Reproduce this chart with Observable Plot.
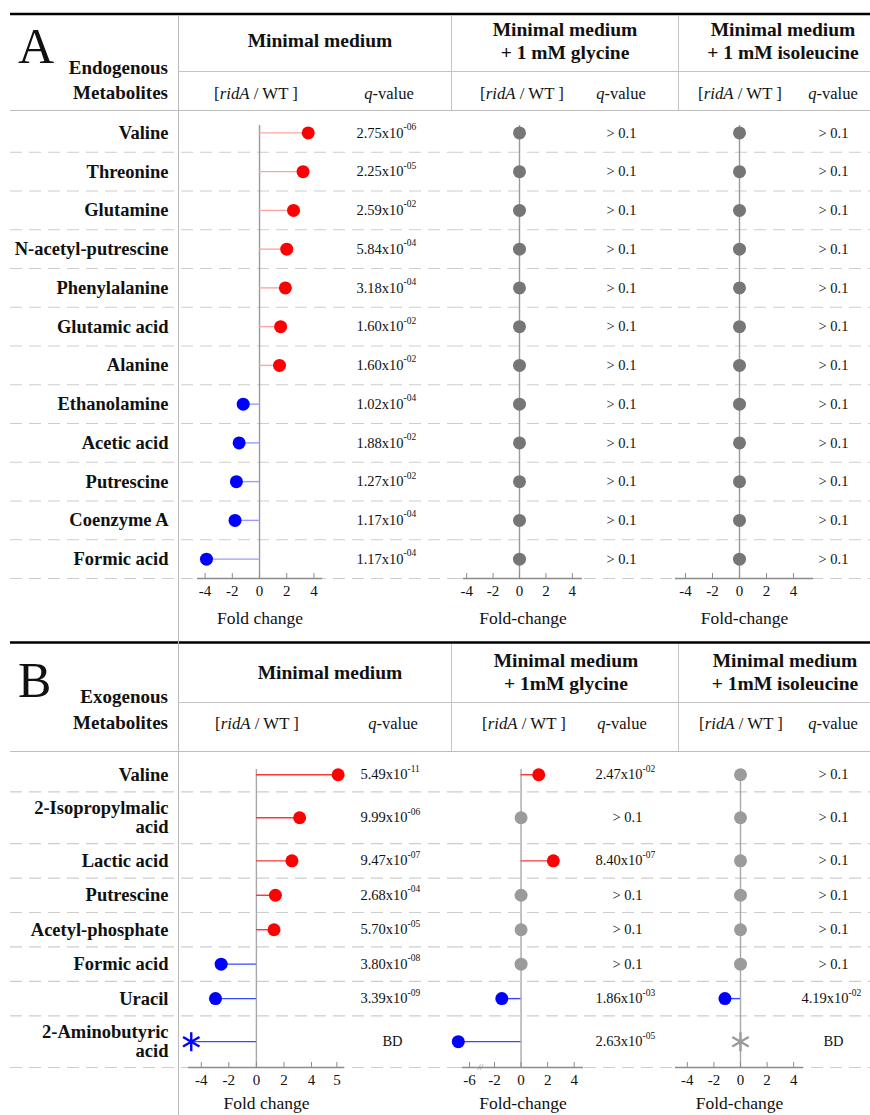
<!DOCTYPE html>
<html><head><meta charset="utf-8">
<script src="https://cdn.jsdelivr.net/npm/d3@7"></script>
<script src="https://cdn.jsdelivr.net/npm/@observablehq/plot@0.6"></script>
<style>
body{margin:0;background:#fff;}
#root{position:relative;width:870px;height:1115px;overflow:hidden;background:#fff;font-family:"Liberation Serif","Times New Roman",serif;}
</style></head><body><div id="root"></div>
<script>
// ---------------- DATA ----------------
const endoMetabolites = ["Valine","Threonine","Glutamine","N-acetyl-putrescine","Phenylalanine","Glutamic acid","Alanine","Ethanolamine","Acetic acid","Putrescine","Coenzyme A","Formic acid"];
const endoMinimalFC = [3.58, 3.2, 2.5, 2.0, 1.9, 1.55, 1.47, -1.2, -1.5, -1.7, -1.8, -3.9];
const endoMinimalQ = ["2.75x10^-06","2.25x10^-05","2.59x10^-02","5.84x10^-04","3.18x10^-04","1.60x10^-02","1.60x10^-02","1.02x10^-04","1.88x10^-02","1.27x10^-02","1.17x10^-04","1.17x10^-04"];
const endoGlycineFC = [0,0,0,0,0,0,0,0,0,0,0,0];
const endoGlycineQ = ["> 0.1","> 0.1","> 0.1","> 0.1","> 0.1","> 0.1","> 0.1","> 0.1","> 0.1","> 0.1","> 0.1","> 0.1"];
const endoIsoleucineFC = [0,0,0,0,0,0,0,0,0,0,0,0];
const endoIsoleucineQ = ["> 0.1","> 0.1","> 0.1","> 0.1","> 0.1","> 0.1","> 0.1","> 0.1","> 0.1","> 0.1","> 0.1","> 0.1"];

const exoMetabolites = ["Valine","2-Isopropylmalic\nacid","Lactic acid","Putrescine","Acetyl-phosphate","Formic acid","Uracil","2-Aminobutyric\nacid"];
const exoMinimalFC = [5.05, 3.14, 2.58, 1.38, 1.28, -2.56, -2.97, -4.73];
const exoMinimalQ = ["5.49x10^-11","9.99x10^-06","9.47x10^-07","2.68x10^-04","5.70x10^-05","3.80x10^-08","3.39x10^-09","BD"];
const exoGlycineFC = [1.33, 0, 2.43, 0, 0, 0, -1.45, -6.8];
const exoGlycineQ = ["2.47x10^-02","> 0.1","8.40x10^-07","> 0.1","> 0.1","> 0.1","1.86x10^-03","2.63x10^-05"];
const exoIsoleucineFC = [0, 0, 0, 0, 0, 0, -1.17, 0];
const exoIsoleucineQ = ["> 0.1","> 0.1","> 0.1","> 0.1","> 0.1","> 0.1","4.19x10^-02","BD"];

const ticksStd = [-4, -2, 0, 2, 4];
const ticksExoMinimal = [-4, -2, 0, 2, 4, 5];
const ticksExoGlycine = [-6, -2, 0, 2, 4];

const panelLetters = ["A", "B"];
const panelTitles = [["Endogenous", "Metabolites"], ["Exogenous", "Metabolites"]];
const conditionTitlesA = [["Minimal medium"], ["Minimal medium", "+ 1 mM glycine"], ["Minimal medium", "+ 1 mM isoleucine"]];
const conditionTitlesB = [["Minimal medium"], ["Minimal medium", "+ 1mM glycine"], ["Minimal medium", "+ 1mM isoleucine"]];
const axisLabels = ["Fold change", "Fold-change", "Fold-change"];

// ---------------- LAYOUT / FRAME ----------------
const FONT = '"Liberation Serif","Times New Roman",serif';
const root = d3.select("#root");
const bg = root.append("svg").attr("width", 870).attr("height", 1115)
  .style("position", "absolute").style("left", "0px").style("top", "0px")
  .style("font-family", FONT);

function line(x1, y1, x2, y2, stroke, w) {
  bg.append("line").attr("x1", x1).attr("y1", y1).attr("x2", x2).attr("y2", y2)
    .attr("stroke", stroke).attr("stroke-width", w);
}
function text(x, y, parts, {size = 16, weight = "normal", anchor = "middle"} = {}) {
  const t = bg.append("text").attr("x", x).attr("y", y).attr("text-anchor", anchor)
    .attr("font-size", size).attr("font-weight", weight).attr("fill", "#111");
  (Array.isArray(parts) ? parts : [[parts]]).forEach(([s, it]) => {
    t.append("tspan").attr("font-style", it ? "italic" : "normal").text(s);
  });
}

// structural rules
line(10, 14, 870, 14, "#000", 2.5);
line(10, 642.5, 870, 642.5, "#000", 2.5);
line(178.5, 15, 178.5, 1115, "#b8b8b8", 1);
[451.5, 678.5].forEach(x => { line(x, 15, x, 110, "#c4c4c4", 1); line(x, 644, x, 751, "#c4c4c4", 1); });
line(178, 71.5, 870, 71.5, "#c4c4c4", 1);
line(10, 110.5, 870, 110.5, "#bdbdbd", 1.2);
line(178, 702.5, 870, 702.5, "#c4c4c4", 1);
line(10, 751.5, 870, 751.5, "#bdbdbd", 1.2);

// headers
const headerGeo = [
  {letterY: 63, titleY: [74, 99], condX: [320, 565, 783], condY1: 47, condY2: [36, 59], subY: 99, ridX: [256, 522, 740], qX: [389, 621, 833], titles: conditionTitlesA},
  {letterY: 697, titleY: [703, 729], condX: [330, 566, 785], condY1: 679, condY2: [667, 690], subY: 729, ridX: [257, 524, 741], qX: [393, 622, 833], titles: conditionTitlesB}
];
headerGeo.forEach((g, p) => {
  text(18, g.letterY, panelLetters[p], {size: 50, anchor: "start"});
  panelTitles[p].forEach((s, i) => text(168, g.titleY[i], s, {size: 19, weight: "bold", anchor: "end"}));
  g.titles.forEach((lines, c) => {
    if (lines.length === 1) text(g.condX[c], g.condY1, lines[0], {size: 19.5, weight: "bold"});
    else lines.forEach((s, i) => text(g.condX[c], g.condY2[i], s, {size: 19.5, weight: "bold"}));
    text(g.ridX[c], g.subY, [["["], ["ridA", true], [" / WT ]"]], {size: 16.8});
    text(g.qX[c], g.subY, [["q", true], ["-value"]], {size: 16.5});
  });
});

// ---------------- LOLLIPOP PANELS (Observable Plot) ----------------
function panel(o) {
  const {labels, fc, q, left, top, width, height, mt, mb, domain, range, ticks, axisLabel, labelOffset,
         qCenter, labelRight, gray, stemRed, stemBlue, zeroColor, dashFrom, brk} = o;
  const axisL = range[0], axisR = range[range.length - 1];
  const ml = axisL - left, mr = left + width - axisR;
  const nLines = labels.map(s => s.split("\n").length);
  const h = nLines.map(n => n > 1 ? 1.5 : 1);
  const ends = Array.from(d3.cumsum(h));
  const total = ends[ends.length - 1];
  const unitPx = (height - mt - mb) / total;
  const rows = labels.map((label, i) => ({label, fc: fc[i], q: q[i], y: ends[i] - h[i] / 2}));
  const color = d => d.fc > 0 ? "#ff0000" : d.fc < 0 ? "#0000ff" : gray;
  const isSci = d => d.q.includes("^");
  const marks = [
    Plot.ruleY(ends, {stroke: "#cdcdcd", strokeWidth: 1.2, strokeDasharray: "12,7",
      insetLeft: -(axisL - dashFrom), insetRight: -mr}),
    Plot.ruleX([0], {y1: 12 / unitPx, y2: total, stroke: zeroColor, strokeWidth: 1.4}),
    Plot.ruleY([total], {x1: domain[0], x2: domain[domain.length - 1], stroke: "#8c8c8c", strokeWidth: 1.3}),
    Plot.ruleX(ticks, {y1: total, y2: total - 5 / unitPx, stroke: "#8c8c8c"}),
    Plot.ruleY(rows.filter(d => d.fc !== 0), {y: "y", x1: 0, x2: "fc", stroke: d => d.fc > 0 ? stemRed : stemBlue, strokeWidth: 1.4}),
    Plot.dot(rows.filter(d => d.q !== "BD"), {x: "fc", y: "y", r: 6.5, fill: color}),
    Plot.dot(rows.filter(d => d.q === "BD"), {x: "fc", y: "y", r: 9, symbol: "asterisk", stroke: color, strokeWidth: 2.4}),
    Plot.text(rows.filter(d => !isSci(d)), {y: "y", text: "q", frameAnchor: "right", textAnchor: "middle", dx: qCenter - axisR, fontSize: 14.5}),
    Plot.text(rows.filter(isSci), {y: "y", text: d => d.q.split("^")[0], frameAnchor: "right", textAnchor: "end", dx: qCenter + 15 - axisR, fontSize: 14.5}),
    Plot.text(rows.filter(isSci), {y: "y", text: d => d.q.split("^")[1], frameAnchor: "right", textAnchor: "start", dx: qCenter + 15 - axisR, dy: -6, fontSize: 9.5})
  ];
  if (labelRight !== undefined) {
    marks.push(Plot.text(rows, {y: "y", text: "label", frameAnchor: "left", textAnchor: "end", dx: labelRight - axisL,
      fontWeight: "bold", fontSize: 18.5, lineHeight: 1.0}));
  }
  if (brk !== undefined) {
    marks.push(Plot.text([brk], {x: d => d, y: total, text: () => "//", fontSize: 9, fill: "#777", fontStyle: "italic"}));
  }
  const chart = Plot.plot({
    width, height, marginLeft: ml, marginRight: mr, marginTop: mt, marginBottom: mb,
    x: {type: "linear", domain, range: range.map(v => v - left), ticks, tickSize: 0, tickPadding: 7, tickFormat: d => String(d),
        label: axisLabel, labelAnchor: "center", labelOffset, labelArrow: "none"},
    y: {type: "linear", domain: [0, total], range: [mt, height - mb], axis: null},
    style: {fontFamily: FONT, fontSize: "15px", background: "transparent", color: "#111", overflow: "visible"},
    marks
  });
  d3.select(chart).selectAll('[aria-label="x-axis label"] text, [aria-label="x-axis label"]').attr("font-size", 17.5);
  chart.style.position = "absolute";
  chart.style.left = left + "px";
  chart.style.top = top + "px";
  chart.style.maxWidth = "none";
  root.node().appendChild(chart);
}

const A = {top: 110, height: 530, mt: 3, mb: 62, labelOffset: 45, gray: "#767676", stemRed: "#ffa3a3", stemBlue: "#9c9cff", zeroColor: "#9a9a9a"};
const B = {top: 751, height: 364, mt: 6, mb: 48, labelOffset: 41, gray: "#9b9b9b", stemRed: "#ff3636", stemBlue: "#3848ff", zeroColor: "#a8a8a8"};

panel({...A, labels: endoMetabolites, fc: endoMinimalFC, q: endoMinimalQ, left: 0, width: 451,
  domain: [-4.56, 4.63], range: [197, 322], ticks: ticksStd, axisLabel: axisLabels[0], qCenter: 388, labelRight: 168, dashFrom: 10});
panel({...A, labels: endoMetabolites, fc: endoGlycineFC, q: endoGlycineQ, left: 451, width: 227,
  domain: [-4.24, 4.77], range: [463, 582], ticks: ticksStd, axisLabel: axisLabels[1], qCenter: 621, dashFrom: 451});
panel({...A, labels: endoMetabolites, fc: endoIsoleucineFC, q: endoIsoleucineQ, left: 678, width: 192,
  domain: [-4.74, 5.48], range: [675, 813], ticks: ticksStd, axisLabel: axisLabels[2], qCenter: 833, dashFrom: 678});

panel({...B, labels: exoMetabolites, fc: exoMinimalFC, q: exoMinimalQ, left: 0, width: 451,
  domain: [-4.93, 4, 5.3], range: [188, 311, 344], ticks: ticksExoMinimal, axisLabel: axisLabels[0], qCenter: 392, labelRight: 168, dashFrom: 10});
panel({...B, labels: exoMetabolites, fc: exoGlycineFC, q: exoGlycineQ, left: 451, width: 227,
  domain: [-6.5, -6, -2, 4.7], range: [462, 469, 494, 583], ticks: ticksExoGlycine, axisLabel: axisLabels[1], qCenter: 627, dashFrom: 451, brk: -4.3});
panel({...B, labels: exoMetabolites, fc: exoIsoleucineFC, q: exoIsoleucineQ, left: 678, width: 192,
  domain: [-4.89, 4.74], range: [675, 803], ticks: ticksStd, axisLabel: axisLabels[2], qCenter: 833, dashFrom: 678});
</script></body></html>
